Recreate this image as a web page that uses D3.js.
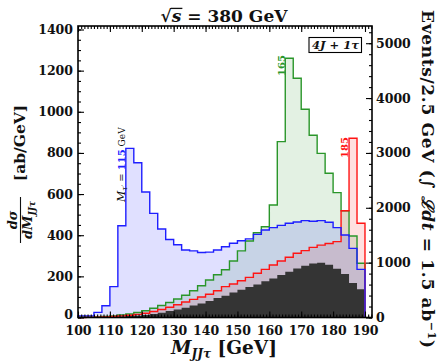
<!DOCTYPE html>
<html>
<head>
<meta charset="utf-8">
<script src="https://cdn.jsdelivr.net/npm/d3@7"></script>
<style>
  body { margin: 0; background: #fff; }
  svg { display: block; }
  .tick text { font-family: "DejaVu Serif", serif; font-weight: bold; font-size: 12.5px; fill: #111; }
</style>
</head>
<body>
<script>
// Lower edges of the 2.5 GeV mass bins (GeV)
const binLow = [100, 102.5, 105, 107.5, 110, 112.5, 115, 117.5, 120, 122.5,
                125, 127.5, 130, 132.5, 135, 137.5, 140, 142.5, 145, 147.5,
                150, 152.5, 155, 157.5, 160, 162.5, 165, 167.5, 170, 172.5,
                175, 177.5, 180, 182.5, 185, 187.5];
const binWidth = 2.5;

// dσ/dM_JJτ in ab/GeV, signal + background, for three heavy-lepton masses
const mass115 = [8, 8, 25, 57, 150, 446, 822, 752, 610, 506,
                 430, 379, 354, 328, 324, 316, 318, 328, 344, 361,
                 373, 382, 404, 425, 437, 448, 458, 464, 471, 468,
                 471, 463, 437, 401, 336, 234];
const mass165 = [1, 2, 3, 5, 8, 12, 17, 24, 33, 45,
                 58, 73, 90, 108, 130, 154, 182, 208, 232, 275,
                 324, 372, 412, 441, 547, 855, 1260, 1163, 1012, 886,
                 798, 701, 607, 519, 396, 264];
const mass185 = [0, 1, 2, 3, 5, 8, 11, 15, 21, 29,
                 39, 50, 62, 75, 88, 100, 113, 130, 150, 163,
                 179, 195, 215, 234, 255, 275, 293, 312, 325, 341,
                 352, 360, 369, 519, 871, 458];
// Standard-model background alone
const background = [0, 1, 2, 3, 4, 5, 7, 9, 12, 17,
                    23, 31, 39, 48, 58, 68, 80, 95, 106, 122,
                    135, 148, 161, 176, 190, 206, 222, 238, 251, 262,
                    266, 256, 237, 211, 168, 137];

const xTicks = [100, 110, 120, 130, 140, 150, 160, 170, 180, 190];
const yTicks = [0, 200, 400, 600, 800, 1000, 1200, 1400];
const eventTicks = [0, 1000, 2000, 3000, 4000, 5000];

const W = 439, H = 361;
const padL = 78, padR = 372, padT = 26, padB = 317.5;
const lumi = 1.5;                        // integrated luminosity, ab^-1
const perBin = binWidth * lumi;          // ab/GeV -> events per 2.5 GeV bin
const yMax = 1417;

const x = d3.scaleLinear().domain([100, 192.2]).range([padL, padR]);
const y = d3.scaleLinear().domain([0, yMax]).range([padB, padT]);
const yEv = d3.scaleLinear().domain([0, yMax * perBin]).range([padB, padT]);

const svg = d3.select("body").append("svg").attr("width", W).attr("height", H);

function stepPoints(vals) {
  const last = binLow[binLow.length - 1] + binWidth;
  return [[binLow[0], 0]]
    .concat(binLow.map((b, i) => [b, vals[i]]))
    .concat([[last, vals[vals.length - 1]], [last, 0]]);
}
const area = d3.area().curve(d3.curveStepAfter)
  .x(d => x(d[0])).y0(y(0)).y1(d => y(d[1]));
const line = d3.line().curve(d3.curveStepAfter)
  .x(d => x(d[0])).y(d => y(d[1]));

const series = [
  { vals: mass185, stroke: "#ff1414", fill: "rgba(255,0,0,0.12)" },
  { vals: mass165, stroke: "#2a962a", fill: "rgba(0,128,0,0.11)" },
  { vals: mass115, stroke: "#1e1eff", fill: "rgba(0,0,255,0.12)" }
];

const plot = svg.append("g");
series.forEach(s => {
  plot.append("path").attr("d", area(stepPoints(s.vals))).attr("fill", s.fill);
});
plot.append("path").attr("d", area(stepPoints(background))).attr("fill", "#343434");
[series[1], series[0], series[2]].forEach(s => {
  plot.append("path").attr("d", line(stepPoints(s.vals)))
    .attr("fill", "none").attr("stroke", s.stroke).attr("stroke-width", 1.4)
    .attr("stroke-linejoin", "miter");
});

// Axes: inward ticks on all four sides
function clean(g) { g.select(".domain").remove(); g.selectAll("line").attr("stroke", "#000").attr("stroke-width", 1.1); }

svg.append("g").attr("transform", `translate(0,${padB})`)
  .call(d3.axisBottom(x).tickValues(d3.range(100, 193, 1)).tickSize(-3).tickFormat(""))
  .call(clean);
svg.append("g").attr("transform", `translate(0,${padB})`)
  .call(d3.axisBottom(x).tickValues(xTicks).tickSize(-6).tickPadding(9).tickFormat(d3.format("d")))
  .call(clean);
svg.append("g").attr("transform", `translate(0,${padT})`)
  .call(d3.axisTop(x).tickValues(d3.range(100, 193, 1)).tickSize(-3).tickFormat(""))
  .call(clean);
svg.append("g").attr("transform", `translate(0,${padT})`)
  .call(d3.axisTop(x).tickValues(xTicks).tickSize(-6).tickFormat(""))
  .call(clean);

svg.append("g").attr("transform", `translate(${padL},0)`)
  .call(d3.axisLeft(y).tickValues(d3.range(0, yMax, 50)).tickSize(-3).tickFormat(""))
  .call(clean);
svg.append("g").attr("transform", `translate(${padL},0)`)
  .call(d3.axisLeft(y).tickValues(yTicks).tickSize(-6).tickPadding(5).tickFormat(d3.format("d")))
  .call(clean)
  .call(g => g.selectAll(".tick text").filter(d => d === 0).attr("dy", "0.05em"));

svg.append("g").attr("transform", `translate(${padR},0)`)
  .call(d3.axisRight(yEv).tickValues(d3.range(0, yMax * perBin, 200)).tickSize(-3).tickFormat(""))
  .call(clean);
svg.append("g").attr("transform", `translate(${padR},0)`)
  .call(d3.axisRight(yEv).tickValues(eventTicks).tickSize(-6).tickPadding(4).tickFormat(d3.format("d")))
  .call(clean);

svg.append("rect").attr("x", padL).attr("y", padT)
  .attr("width", padR - padL).attr("height", padB - padT)
  .attr("fill", "none").attr("stroke", "#000").attr("stroke-width", 1.6);

const serif = "'DejaVu Serif', serif";

// Title: √s = 380 GeV
const title = svg.append("text").attr("x", 224).attr("y", 22)
  .attr("text-anchor", "middle").attr("font-family", serif)
  .attr("font-weight", "bold").attr("font-size", 17).attr("fill", "#111");
title.append("tspan").text("√");
title.append("tspan").attr("font-style", "italic").text("s");
title.append("tspan").text(" = 380 GeV");
{
  const n = title.node();
  const r = n.getExtentOfChar(0), s = n.getExtentOfChar(1);
  const yb = 22 - 0.80 * 17;
  svg.append("line").attr("x1", r.x + r.width - 1).attr("x2", s.x + s.width + 1)
    .attr("y1", yb).attr("y2", yb).attr("stroke", "#111").attr("stroke-width", 1.3);
}

// X axis title
const xt = svg.append("text").attr("x", 224).attr("y", 354)
  .attr("text-anchor", "middle").attr("font-family", serif)
  .attr("font-weight", "bold").attr("font-size", 18.5).attr("fill", "#111");
xt.append("tspan").attr("font-style", "italic").text("M");
xt.append("tspan").attr("font-style", "italic").attr("font-size", 12).attr("dy", 3.5).text("JJτ");
xt.append("tspan").attr("dy", -3.5).text(" [GeV]");

// Left axis title (rotated)
const lt = svg.append("g").attr("transform", "rotate(-90)");
lt.append("text").attr("x", -143).attr("y", 25).attr("text-anchor", "middle")
  .attr("font-family", serif).attr("font-weight", "bold").attr("font-size", 15.5)
  .attr("fill", "#111").text("[ab/GeV]");
lt.append("line").attr("x1", -243).attr("x2", -197).attr("y1", 20.5).attr("y2", 20.5)
  .attr("stroke", "#111").attr("stroke-width", 1.1);
const num = lt.append("text").attr("x", -220).attr("y", 17).attr("text-anchor", "middle")
  .attr("font-family", serif).attr("font-weight", "bold").attr("font-style", "italic")
  .attr("font-size", 13).attr("fill", "#111");
num.append("tspan").text("dσ");
const den = lt.append("text").attr("x", -220).attr("y", 31.5).attr("text-anchor", "middle")
  .attr("font-family", serif).attr("font-weight", "bold").attr("font-style", "italic")
  .attr("font-size", 13).attr("fill", "#111");
den.append("tspan").text("dM");
den.append("tspan").attr("font-size", 9).attr("dy", 3).text("JJτ");

// Right axis title (rotated)
const rt = svg.append("g").attr("transform", "rotate(90)");
const rtt = rt.append("text").attr("x", 179).attr("y", -421.5).attr("text-anchor", "middle")
  .attr("font-family", serif).attr("font-weight", "bold").attr("font-size", 17)
  .attr("textLength", 338).attr("lengthAdjust", "spacing")
  .attr("fill", "#111");
rtt.append("tspan").text("Events/2.5 GeV (∫ ");
rtt.append("tspan").attr("font-style", "italic").text("ℒdt");
rtt.append("tspan").text(" = 1.5 ab");
rtt.append("tspan").attr("font-size", 11).attr("dy", -6).text("−1");
rtt.append("tspan").attr("dy", 6).text(")");

// Channel box
svg.append("rect").attr("x", 309).attr("y", 37.5).attr("width", 52.5).attr("height", 15)
  .attr("fill", "#fff").attr("stroke", "#000").attr("stroke-width", 1.1);
const box = svg.append("text").attr("x", 335.5).attr("y", 49.3).attr("text-anchor", "middle")
  .attr("font-family", serif).attr("font-weight", "bold").attr("font-style", "italic")
  .attr("font-size", 11.5).attr("fill", "#111");
box.text("4J + 1τ");

// Mass labels beside the peaks
const ann = svg.append("g").attr("transform", "rotate(-90)");
const a115 = ann.append("text").attr("x", -202).attr("y", 124.5)
  .attr("font-family", serif).attr("font-size", 10).attr("fill", "#111");
a115.append("tspan").attr("font-style", "italic").attr("font-size", 11).text("M");
a115.append("tspan").attr("font-style", "italic").attr("font-size", 7.5).attr("dy", 2.5).text("τ′");
a115.append("tspan").attr("dy", -2.5).text(" = ");
a115.append("tspan").attr("fill", "#1e1eff").attr("font-weight", "bold").text("115");
a115.append("tspan").attr("font-size", 9).text(" GeV");

ann.append("text").attr("x", -65.5).attr("y", 284.5).attr("text-anchor", "middle")
  .attr("font-family", serif).attr("font-weight", "bold").attr("font-size", 10)
  .attr("fill", "#2a962a").text("165");
ann.append("text").attr("x", -147.5).attr("y", 347.5).attr("text-anchor", "middle")
  .attr("font-family", serif).attr("font-weight", "bold").attr("font-size", 10)
  .attr("fill", "#ff1414").text("185");
</script>
</body>
</html>
